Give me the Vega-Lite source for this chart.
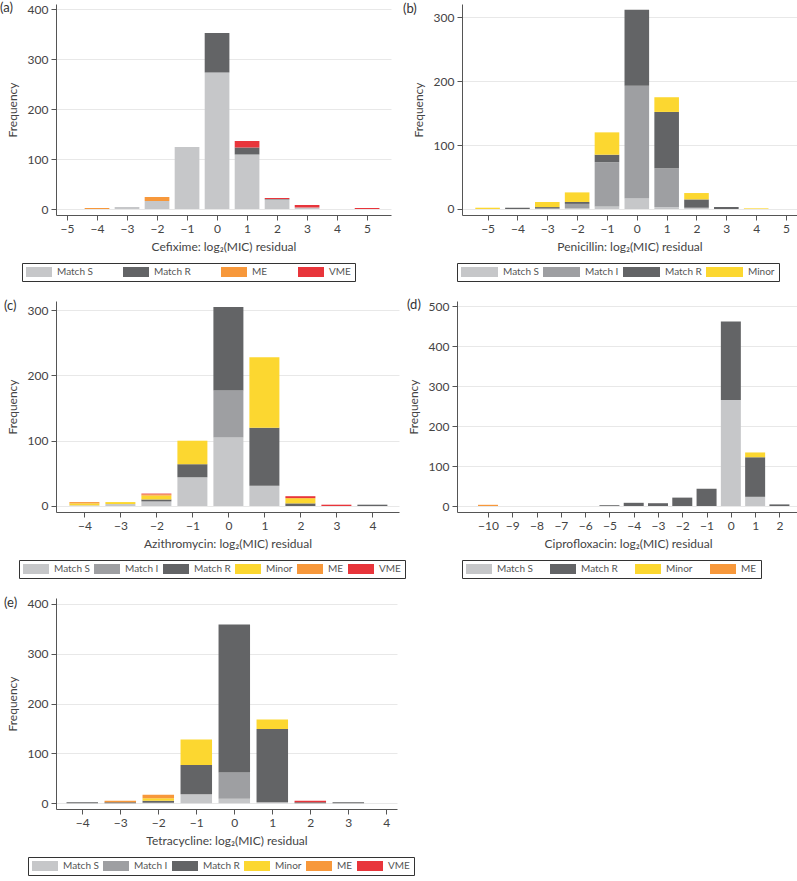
{
  "$schema": "https://vega.github.io/schema/vega-lite/v6.json",
  "padding": {"left": 0, "top": 2, "right": 0, "bottom": 0},
  "background": "white",
  "datasets": {
    "cats": [
      {"c": "Match S", "k": 1}, {"c": "Match I", "k": 2}, {"c": "Match R", "k": 3},
      {"c": "Minor", "k": 4}, {"c": "ME", "k": 5}, {"c": "VME", "k": 6}
    ],
    "a": [
      {"r": -4, "c": "ME", "n": 2},
      {"r": -3, "c": "Match S", "n": 4},
      {"r": -2, "c": "Match S", "n": 16}, {"r": -2, "c": "ME", "n": 8},
      {"r": -1, "c": "Match S", "n": 124},
      {"r": 0, "c": "Match S", "n": 273}, {"r": 0, "c": "Match R", "n": 79},
      {"r": 1, "c": "Match S", "n": 109}, {"r": 1, "c": "Match R", "n": 14}, {"r": 1, "c": "VME", "n": 13},
      {"r": 2, "c": "Match S", "n": 19}, {"r": 2, "c": "Match R", "n": 1}, {"r": 2, "c": "VME", "n": 2},
      {"r": 3, "c": "Match S", "n": 3}, {"r": 3, "c": "VME", "n": 5},
      {"r": 5, "c": "VME", "n": 2}
    ],
    "b": [
      {"r": -5, "c": "Minor", "n": 2},
      {"r": -4, "c": "Match R", "n": 2},
      {"r": -3, "c": "Match I", "n": 1}, {"r": -3, "c": "Match R", "n": 2}, {"r": -3, "c": "Minor", "n": 8},
      {"r": -2, "c": "Match S", "n": 1}, {"r": -2, "c": "Match I", "n": 7}, {"r": -2, "c": "Match R", "n": 3}, {"r": -2, "c": "Minor", "n": 15},
      {"r": -1, "c": "Match S", "n": 4}, {"r": -1, "c": "Match I", "n": 69}, {"r": -1, "c": "Match R", "n": 12}, {"r": -1, "c": "Minor", "n": 35},
      {"r": 0, "c": "Match S", "n": 17}, {"r": 0, "c": "Match I", "n": 176}, {"r": 0, "c": "Match R", "n": 119},
      {"r": 1, "c": "Match S", "n": 3}, {"r": 1, "c": "Match I", "n": 61}, {"r": 1, "c": "Match R", "n": 88}, {"r": 1, "c": "Minor", "n": 23},
      {"r": 2, "c": "Match S", "n": 2}, {"r": 2, "c": "Match R", "n": 13}, {"r": 2, "c": "Minor", "n": 10},
      {"r": 3, "c": "Match R", "n": 3},
      {"r": 4, "c": "Minor", "n": 1}
    ],
    "c": [
      {"r": -4, "c": "Match S", "n": 1}, {"r": -4, "c": "Minor", "n": 3}, {"r": -4, "c": "ME", "n": 2},
      {"r": -3, "c": "Match S", "n": 3}, {"r": -3, "c": "Minor", "n": 3},
      {"r": -2, "c": "Match S", "n": 7}, {"r": -2, "c": "Match R", "n": 3}, {"r": -2, "c": "Minor", "n": 6}, {"r": -2, "c": "ME", "n": 2}, {"r": -2, "c": "VME", "n": 1},
      {"r": -1, "c": "Match S", "n": 44}, {"r": -1, "c": "Match R", "n": 20}, {"r": -1, "c": "Minor", "n": 36},
      {"r": 0, "c": "Match S", "n": 105}, {"r": 0, "c": "Match I", "n": 72}, {"r": 0, "c": "Match R", "n": 128},
      {"r": 1, "c": "Match S", "n": 31}, {"r": 1, "c": "Match R", "n": 89}, {"r": 1, "c": "Minor", "n": 108},
      {"r": 2, "c": "Match R", "n": 4}, {"r": 2, "c": "Minor", "n": 8}, {"r": 2, "c": "VME", "n": 3},
      {"r": 3, "c": "VME", "n": 2},
      {"r": 4, "c": "Match R", "n": 2}
    ],
    "d": [
      {"r": -10, "c": "ME", "n": 3},
      {"r": -5, "c": "Match R", "n": 2},
      {"r": -4, "c": "Match R", "n": 8},
      {"r": -3, "c": "Match R", "n": 7},
      {"r": -2, "c": "Match R", "n": 21},
      {"r": -1, "c": "Match R", "n": 43},
      {"r": 0, "c": "Match S", "n": 265}, {"r": 0, "c": "Match R", "n": 197},
      {"r": 1, "c": "Match S", "n": 23}, {"r": 1, "c": "Match R", "n": 99}, {"r": 1, "c": "Minor", "n": 12},
      {"r": 2, "c": "Match R", "n": 4}
    ],
    "e": [
      {"r": -4, "c": "Match R", "n": 2},
      {"r": -3, "c": "Match R", "n": 2}, {"r": -3, "c": "ME", "n": 3},
      {"r": -2, "c": "Match S", "n": 1}, {"r": -2, "c": "Match R", "n": 4}, {"r": -2, "c": "Minor", "n": 5}, {"r": -2, "c": "ME", "n": 7},
      {"r": -1, "c": "Match S", "n": 18}, {"r": -1, "c": "Match R", "n": 59}, {"r": -1, "c": "Minor", "n": 51},
      {"r": 0, "c": "Match S", "n": 9}, {"r": 0, "c": "Match I", "n": 53}, {"r": 0, "c": "Match R", "n": 297},
      {"r": 1, "c": "Match S", "n": 2}, {"r": 1, "c": "Match R", "n": 147}, {"r": 1, "c": "Minor", "n": 19},
      {"r": 2, "c": "Match R", "n": 2}, {"r": 2, "c": "VME", "n": 3},
      {"r": 3, "c": "Match R", "n": 2}
    ]
  },
  "spacing": 17,
  "vconcat": [
    {
      "spacing": 71,
      "bounds": "flush",
      "resolve": {"scale": {"color": "independent", "x": "independent", "y": "independent"}, "legend": {"color": "independent"}},
      "hconcat": [
        {
          "width": 335, "height": 211,
          "data": {"name": "a"},
          "transform": [{"lookup": "c", "from": {"data": {"name": "cats"}, "key": "c", "fields": ["k"]}}],
          "title": {"text": "(a)", "dx": -56},
          "mark": {"type": "bar", "width": 24.7},
          "encoding": {
            "x": {"field": "r", "type": "quantitative", "scale": {"domain": [-5.2, 5.63], "nice": false, "zero": false},
                  "axis": {"values": [-5, -4, -3, -2, -1, 0, 1, 2, 3, 4, 5], "title": "Cefixime: log₂(MIC) residual", "grid": false}},
            "y": {"field": "n", "type": "quantitative", "stack": "zero", "scale": {"domain": [-12, 410], "nice": false, "zero": false},
                  "axis": {"values": [0, 100, 200, 300, 400], "title": "Frequency"}},
            "order": {"field": "k", "type": "quantitative", "sort": "ascending"},
            "color": {"field": "c", "type": "nominal", "sort": ["Match S", "Match R", "ME", "VME"],
                      "scale": {"domain": ["Match S", "Match R", "ME", "VME"], "range": ["#c6c7c9", "#636466", "#f7983b", "#e8353b"]},
                      "legend": {"columns": 4, "columnPadding": 30, "legendX": -34}}
          }
        },
        {
          "width": 335, "height": 211,
          "data": {"name": "b"},
          "transform": [{"lookup": "c", "from": {"data": {"name": "cats"}, "key": "c", "fields": ["k"]}}],
          "title": {"text": "(b)", "dx": -59},
          "mark": {"type": "bar", "width": 24.6},
          "encoding": {
            "x": {"field": "r", "type": "quantitative", "scale": {"domain": [-5.69, 5.2], "nice": false, "zero": false},
                  "axis": {"values": [-5, -4, -3, -2, -1, 0, 1, 2, 3, 4, 5], "title": "Penicillin: log₂(MIC) residual", "grid": false}},
            "y": {"field": "n", "type": "quantitative", "stack": "zero", "scale": {"domain": [-9.4, 321], "nice": false, "zero": false},
                  "axis": {"values": [0, 100, 200, 300], "title": "Frequency"}},
            "order": {"field": "k", "type": "quantitative", "sort": "ascending"},
            "color": {"field": "c", "type": "nominal", "sort": ["Match S", "Match I", "Match R", "Minor"],
                      "scale": {"domain": ["Match S", "Match I", "Match R", "Minor"], "range": ["#c6c7c9", "#9e9fa2", "#636466", "#fcd730"]},
                      "legend": {"columns": 4, "columnPadding": 4, "symbolType": "M-1,-1H6.4V1H-1Z", "labelOffset": 32, "legendX": -5}}
          }
        }
      ]
    },
    {
      "spacing": 58,
      "bounds": "flush",
      "resolve": {"scale": {"color": "independent", "x": "independent", "y": "independent"}, "legend": {"color": "independent"}},
      "hconcat": [
        {
          "width": 343, "height": 211,
          "data": {"name": "c"},
          "transform": [{"lookup": "c", "from": {"data": {"name": "cats"}, "key": "c", "fields": ["k"]}}],
          "title": {"text": "(c)", "dx": -52},
          "mark": {"type": "bar", "width": 30},
          "encoding": {
            "x": {"field": "r", "type": "quantitative", "scale": {"domain": [-4.65, 4.6], "nice": false, "zero": false},
                  "axis": {"values": [-4, -3, -2, -1, 0, 1, 2, 3, 4], "title": "Azithromycin: log₂(MIC) residual", "grid": false}},
            "y": {"field": "n", "type": "quantitative", "stack": "zero", "scale": {"domain": [-9.2, 314], "nice": false, "zero": false},
                  "axis": {"values": [0, 100, 200, 300], "title": "Frequency"}},
            "order": {"field": "k", "type": "quantitative", "sort": "ascending"},
            "color": {"field": "c", "type": "nominal", "sort": ["Match S", "Match I", "Match R", "Minor", "ME", "VME"],
                      "scale": {"domain": ["Match S", "Match I", "Match R", "Minor", "ME", "VME"], "range": ["#c6c7c9", "#9e9fa2", "#636466", "#fcd730", "#f7983b", "#e8353b"]},
                      "legend": {"columns": 6, "columnPadding": 4, "legendX": -37}}
          }
        },
        {
          "width": 342, "height": 211,
          "data": {"name": "d"},
          "transform": [{"lookup": "c", "from": {"data": {"name": "cats"}, "key": "c", "fields": ["k"]}}],
          "title": {"text": "(d)", "dx": -50},
          "mark": {"type": "bar", "width": 20},
          "encoding": {
            "x": {"field": "r", "type": "quantitative", "scale": {"domain": [-11.07, 2.6], "nice": false, "zero": false},
                  "axis": {"values": [-10, -9, -8, -7, -6, -5, -4, -3, -2, -1, 0, 1, 2], "title": "Ciprofloxacin: log₂(MIC) residual", "grid": false}},
            "y": {"field": "n", "type": "quantitative", "stack": "zero", "scale": {"domain": [-15, 513], "nice": false, "zero": false},
                  "axis": {"values": [0, 100, 200, 300, 400, 500], "title": "Frequency"}},
            "order": {"field": "k", "type": "quantitative", "sort": "ascending"},
            "color": {"field": "c", "type": "nominal", "sort": ["Match S", "Match R", "Minor", "ME"],
                      "scale": {"domain": ["Match S", "Match R", "Minor", "ME"], "range": ["#c6c7c9", "#636466", "#fcd730", "#f7983b"]},
                      "legend": {"columns": 4, "columnPadding": 17, "legendX": 5}}
          }
        }
      ]
    },
    {
      "width": 341, "height": 211,
      "data": {"name": "e"},
      "transform": [{"lookup": "c", "from": {"data": {"name": "cats"}, "key": "c", "fields": ["k"]}}],
      "title": {"text": "(e)", "dx": -52},
      "mark": {"type": "bar", "width": 31.5},
      "encoding": {
        "x": {"field": "r", "type": "quantitative", "scale": {"domain": [-4.56, 4.15], "nice": false, "zero": false},
              "axis": {"values": [-4, -3, -2, -1, 0, 1, 2, 3, 4], "title": "Tetracycline: log₂(MIC) residual", "grid": false}},
        "y": {"field": "n", "type": "quantitative", "stack": "zero", "scale": {"domain": [-11.4, 412], "nice": false, "zero": false},
              "axis": {"values": [0, 100, 200, 300, 400], "title": "Frequency"}},
        "order": {"field": "k", "type": "quantitative", "sort": "ascending"},
        "color": {"field": "c", "type": "nominal", "sort": ["Match S", "Match I", "Match R", "Minor", "ME", "VME"],
                  "scale": {"domain": ["Match S", "Match I", "Match R", "Minor", "ME", "VME"], "range": ["#c6c7c9", "#9e9fa2", "#636466", "#fcd730", "#f7983b", "#e8353b"]},
                  "legend": {"columns": 6, "columnPadding": 4, "legendX": -28}}
      }
    }
  ],
  "resolve": {"scale": {"color": "independent", "x": "independent", "y": "independent"}, "legend": {"color": "independent"}},
  "config": {
    "font": "Lato",
    "view": {"stroke": null},
    "title": {"anchor": "start", "frame": "group", "orient": "top", "baseline": "top", "fontSize": 13, "fontWeight": "normal", "color": "#333", "dy": 16, "offset": 0},
    "axis": {"domainColor": "#555", "tickColor": "#555", "labelColor": "#444", "titleColor": "#444", "labelFontSize": 12, "titleFontSize": 12, "titleFontWeight": "normal", "gridColor": "#e8e8e8", "tickSize": 5, "labelPadding": 3, "labelFlush": false, "labelOverlap": false},
    "axisY": {"titlePadding": 8},
    "axisX": {"titlePadding": 7},
    "legend": {"orient": "none", "legendY": 259, "direction": "horizontal", "title": null, "strokeColor": "#333", "padding": 4, "symbolType": "M-1,-1H4.2V1H-1Z", "symbolSize": 100, "symbolStrokeWidth": 0, "labelFontSize": 10, "labelColor": "#555", "labelOffset": 21}
  }
}
